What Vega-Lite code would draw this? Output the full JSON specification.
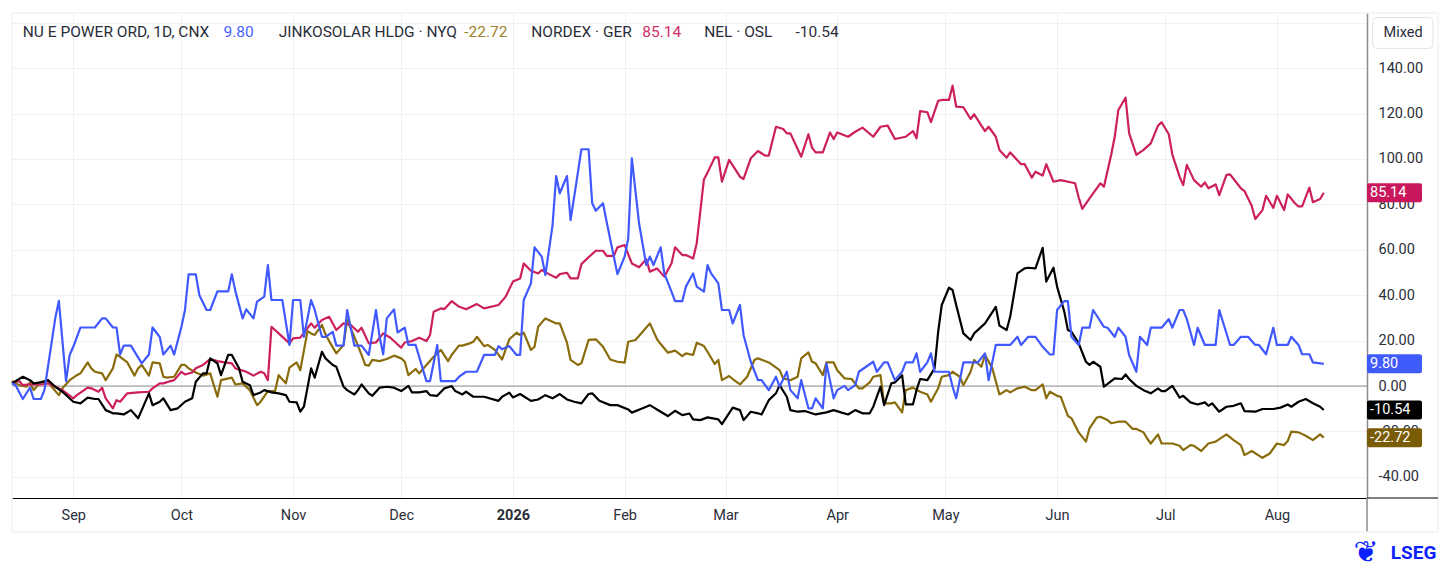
{
  "$schema": "https://vega.github.io/schema/vega-lite/v6.json",
  "width": 1355,
  "height": 485,
  "autosize": {"type": "none"},
  "padding": {"left": 12, "top": 13, "right": 84, "bottom": 73},
  "background": "white",
  "config": {"font": "Roboto", "view": {"stroke": null}},
  "datasets": {
    "nu": [{"d":"2025-08-15","v":1.2},{"d":"2025-08-16","v":0.4},{"d":"2025-08-18","v":-5.7},{"d":"2025-08-20","v":-0.7},{"d":"2025-08-21","v":-5.7},{"d":"2025-08-23","v":-5.7},{"d":"2025-08-24","v":-1.8},{"d":"2025-08-27","v":29.8},{"d":"2025-08-28","v":37.5},{"d":"2025-08-30","v":2.2},{"d":"2025-08-31","v":13.7},{"d":"2025-09-01","v":17.3},{"d":"2025-09-03","v":25.8},{"d":"2025-09-07","v":25.8},{"d":"2025-09-09","v":29.8},{"d":"2025-09-10","v":29.8},{"d":"2025-09-12","v":25.8},{"d":"2025-09-13","v":25.8},{"d":"2025-09-14","v":13.9},{"d":"2025-09-15","v":17.8},{"d":"2025-09-17","v":17.8},{"d":"2025-09-20","v":10},{"d":"2025-09-22","v":13.9},{"d":"2025-09-23","v":25.8},{"d":"2025-09-25","v":21.6},{"d":"2025-09-26","v":13.9},{"d":"2025-09-28","v":17.8},{"d":"2025-09-29","v":13.9},{"d":"2025-10-01","v":26},{"d":"2025-10-02","v":33.5},{"d":"2025-10-03","v":49.2},{"d":"2025-10-05","v":49.2},{"d":"2025-10-06","v":40},{"d":"2025-10-08","v":33.5},{"d":"2025-10-09","v":33.5},{"d":"2025-10-11","v":41.7},{"d":"2025-10-14","v":41.7},{"d":"2025-10-15","v":49.2},{"d":"2025-10-16","v":41.7},{"d":"2025-10-18","v":29.8},{"d":"2025-10-19","v":33.8},{"d":"2025-10-21","v":29.8},{"d":"2025-10-22","v":37.2},{"d":"2025-10-24","v":39.4},{"d":"2025-10-25","v":53.3},{"d":"2025-10-26","v":37.9},{"d":"2025-10-29","v":37.9},{"d":"2025-10-31","v":18.1},{"d":"2025-11-01","v":37.9},{"d":"2025-11-03","v":37.9},{"d":"2025-11-04","v":21.7},{"d":"2025-11-06","v":37.9},{"d":"2025-11-07","v":33.5},{"d":"2025-11-09","v":21.7},{"d":"2025-11-10","v":21.7},{"d":"2025-11-12","v":23.9},{"d":"2025-11-13","v":17.8},{"d":"2025-11-15","v":17.8},{"d":"2025-11-16","v":33.5},{"d":"2025-11-18","v":17.8},{"d":"2025-11-20","v":17.8},{"d":"2025-11-22","v":13.7},{"d":"2025-11-24","v":33.5},{"d":"2025-11-25","v":21.7},{"d":"2025-11-26","v":14},{"d":"2025-11-27","v":29.8},{"d":"2025-11-29","v":33.8},{"d":"2025-11-30","v":23.6},{"d":"2025-12-02","v":25.7},{"d":"2025-12-03","v":18.1},{"d":"2025-12-05","v":18.1},{"d":"2025-12-08","v":2.2},{"d":"2025-12-09","v":2.2},{"d":"2025-12-11","v":18.1},{"d":"2025-12-12","v":2.2},{"d":"2025-12-16","v":2.2},{"d":"2025-12-17","v":4},{"d":"2025-12-19","v":6.3},{"d":"2025-12-22","v":6.3},{"d":"2025-12-24","v":13.7},{"d":"2025-12-27","v":13.7},{"d":"2025-12-28","v":17.6},{"d":"2025-12-29","v":16.2},{"d":"2025-12-31","v":17.6},{"d":"2026-01-02","v":13.7},{"d":"2026-01-03","v":13.7},{"d":"2026-01-04","v":37.9},{"d":"2026-01-06","v":45.2},{"d":"2026-01-07","v":61.1},{"d":"2026-01-09","v":57},{"d":"2026-01-10","v":48.9},{"d":"2026-01-12","v":70.9},{"d":"2026-01-13","v":92.5},{"d":"2026-01-14","v":84.9},{"d":"2026-01-16","v":92.5},{"d":"2026-01-17","v":73.1},{"d":"2026-01-19","v":93.7},{"d":"2026-01-20","v":104.3},{"d":"2026-01-22","v":104.3},{"d":"2026-01-23","v":80.5},{"d":"2026-01-24","v":77.2},{"d":"2026-01-26","v":80.5},{"d":"2026-01-27","v":72.4},{"d":"2026-01-30","v":49.3},{"d":"2026-02-01","v":57},{"d":"2026-02-02","v":65},{"d":"2026-02-03","v":100.3},{"d":"2026-02-05","v":71.7},{"d":"2026-02-07","v":53.3},{"d":"2026-02-08","v":57},{"d":"2026-02-09","v":53.3},{"d":"2026-02-11","v":61.1},{"d":"2026-02-12","v":49.6},{"d":"2026-02-14","v":41.6},{"d":"2026-02-15","v":37.4},{"d":"2026-02-17","v":37.4},{"d":"2026-02-18","v":43.8},{"d":"2026-02-20","v":49.6},{"d":"2026-02-21","v":43.8},{"d":"2026-02-23","v":41.6},{"d":"2026-02-24","v":53.3},{"d":"2026-02-25","v":49.6},{"d":"2026-02-27","v":45.2},{"d":"2026-02-28","v":33.5},{"d":"2026-03-02","v":33.5},{"d":"2026-03-03","v":27.6},{"d":"2026-03-05","v":35.7},{"d":"2026-03-06","v":22.5},{"d":"2026-03-08","v":10.7},{"d":"2026-03-10","v":2.6},{"d":"2026-03-11","v":2.6},{"d":"2026-03-13","v":-1.8},{"d":"2026-03-15","v":4.1},{"d":"2026-03-16","v":-0.3},{"d":"2026-03-18","v":6.3},{"d":"2026-03-19","v":-1.8},{"d":"2026-03-21","v":-5.4},{"d":"2026-03-22","v":2.6},{"d":"2026-03-24","v":-9.8},{"d":"2026-03-25","v":-9.8},{"d":"2026-03-26","v":-5.4},{"d":"2026-03-28","v":-9.8},{"d":"2026-03-29","v":10},{"d":"2026-03-31","v":-5.4},{"d":"2026-04-01","v":-1.8},{"d":"2026-04-03","v":0.1},{"d":"2026-04-04","v":-1.8},{"d":"2026-04-06","v":0.4},{"d":"2026-04-07","v":6.3},{"d":"2026-04-09","v":8.5},{"d":"2026-04-11","v":10.7},{"d":"2026-04-12","v":6.3},{"d":"2026-04-14","v":10.4},{"d":"2026-04-15","v":10.4},{"d":"2026-04-17","v":2.6},{"d":"2026-04-19","v":6.3},{"d":"2026-04-20","v":10.4},{"d":"2026-04-22","v":10.4},{"d":"2026-04-23","v":14.4},{"d":"2026-04-24","v":6.3},{"d":"2026-04-26","v":10.4},{"d":"2026-04-27","v":14.4},{"d":"2026-04-28","v":6.3},{"d":"2026-05-02","v":6.3},{"d":"2026-05-03","v":-0.3},{"d":"2026-05-04","v":-5.4},{"d":"2026-05-06","v":10.4},{"d":"2026-05-10","v":10.4},{"d":"2026-05-12","v":14.4},{"d":"2026-05-13","v":2.6},{"d":"2026-05-15","v":18.1},{"d":"2026-05-16","v":18.1},{"d":"2026-05-19","v":18.1},{"d":"2026-05-21","v":21.7},{"d":"2026-05-22","v":18.1},{"d":"2026-05-24","v":21.7},{"d":"2026-05-26","v":21.7},{"d":"2026-05-28","v":17.3},{"d":"2026-05-30","v":13.9},{"d":"2026-05-31","v":13.9},{"d":"2026-06-01","v":33.5},{"d":"2026-06-03","v":37.4},{"d":"2026-06-04","v":37.4},{"d":"2026-06-05","v":21.7},{"d":"2026-06-07","v":18.1},{"d":"2026-06-08","v":25.7},{"d":"2026-06-10","v":25.7},{"d":"2026-06-11","v":33.5},{"d":"2026-06-14","v":26.1},{"d":"2026-06-15","v":25.7},{"d":"2026-06-17","v":21.7},{"d":"2026-06-18","v":25.7},{"d":"2026-06-20","v":21.7},{"d":"2026-06-21","v":13.6},{"d":"2026-06-23","v":6.3},{"d":"2026-06-24","v":21.7},{"d":"2026-06-26","v":18.1},{"d":"2026-06-27","v":25.7},{"d":"2026-06-30","v":25.7},{"d":"2026-07-02","v":29.5},{"d":"2026-07-03","v":25.7},{"d":"2026-07-05","v":33.5},{"d":"2026-07-06","v":33.5},{"d":"2026-07-07","v":29.5},{"d":"2026-07-09","v":18.1},{"d":"2026-07-10","v":25.7},{"d":"2026-07-12","v":18.1},{"d":"2026-07-15","v":18.1},{"d":"2026-07-16","v":33.5},{"d":"2026-07-19","v":18.1},{"d":"2026-07-20","v":18.1},{"d":"2026-07-22","v":21.7},{"d":"2026-07-24","v":21.7},{"d":"2026-07-26","v":18.1},{"d":"2026-07-27","v":18.1},{"d":"2026-07-29","v":14},{"d":"2026-07-31","v":25.7},{"d":"2026-08-01","v":18.1},{"d":"2026-08-04","v":18.1},{"d":"2026-08-05","v":21.7},{"d":"2026-08-07","v":18.1},{"d":"2026-08-08","v":14},{"d":"2026-08-10","v":14},{"d":"2026-08-11","v":10.4},{"d":"2026-08-14","v":9.8}],
    "nx": [{"d":"2025-08-15","v":1.5},{"d":"2025-08-17","v":2.2},{"d":"2025-08-18","v":0.4},{"d":"2025-08-20","v":0.7},{"d":"2025-08-23","v":0.7},{"d":"2025-08-25","v":1.2},{"d":"2025-08-27","v":-0.3},{"d":"2025-08-29","v":-1.8},{"d":"2025-09-01","v":-5.4},{"d":"2025-09-02","v":-4},{"d":"2025-09-05","v":-0.7},{"d":"2025-09-06","v":-1},{"d":"2025-09-08","v":-2.5},{"d":"2025-09-09","v":-0.7},{"d":"2025-09-10","v":-5.4},{"d":"2025-09-12","v":-9.8},{"d":"2025-09-13","v":-6.2},{"d":"2025-09-14","v":-6.9},{"d":"2025-09-16","v":-3.2},{"d":"2025-09-19","v":-2.8},{"d":"2025-09-22","v":-2.5},{"d":"2025-09-23","v":-1},{"d":"2025-09-25","v":1.2},{"d":"2025-09-26","v":1.2},{"d":"2025-09-28","v":2.2},{"d":"2025-09-29","v":2.6},{"d":"2025-10-01","v":6.3},{"d":"2025-10-02","v":5.1},{"d":"2025-10-04","v":6},{"d":"2025-10-05","v":7.8},{"d":"2025-10-07","v":9.3},{"d":"2025-10-09","v":11.9},{"d":"2025-10-11","v":11},{"d":"2025-10-13","v":10.4},{"d":"2025-10-15","v":10},{"d":"2025-10-16","v":7.8},{"d":"2025-10-19","v":6.3},{"d":"2025-10-21","v":4.6},{"d":"2025-10-23","v":6.3},{"d":"2025-10-24","v":5.6},{"d":"2025-10-25","v":2.6},{"d":"2025-10-26","v":26.1},{"d":"2025-10-28","v":23.2},{"d":"2025-10-31","v":18.8},{"d":"2025-11-01","v":21},{"d":"2025-11-03","v":21.3},{"d":"2025-11-06","v":27.6},{"d":"2025-11-07","v":25.7},{"d":"2025-11-09","v":29.1},{"d":"2025-11-11","v":30.5},{"d":"2025-11-13","v":24.7},{"d":"2025-11-15","v":27.6},{"d":"2025-11-17","v":26.9},{"d":"2025-11-19","v":23.9},{"d":"2025-11-20","v":25.7},{"d":"2025-11-22","v":18.8},{"d":"2025-11-24","v":19.2},{"d":"2025-11-26","v":23.2},{"d":"2025-11-28","v":21.3},{"d":"2025-12-01","v":16.9},{"d":"2025-12-02","v":19.2},{"d":"2025-12-04","v":19.8},{"d":"2025-12-06","v":21.3},{"d":"2025-12-08","v":19.8},{"d":"2025-12-09","v":22.5},{"d":"2025-12-10","v":32.7},{"d":"2025-12-12","v":34.2},{"d":"2025-12-13","v":33.9},{"d":"2025-12-15","v":37.4},{"d":"2025-12-17","v":35},{"d":"2025-12-19","v":33.8},{"d":"2025-12-22","v":36.1},{"d":"2025-12-24","v":34.2},{"d":"2025-12-28","v":35.7},{"d":"2025-12-30","v":39.4},{"d":"2026-01-01","v":46},{"d":"2026-01-03","v":47.4},{"d":"2026-01-04","v":54},{"d":"2026-01-06","v":50.8},{"d":"2026-01-08","v":49.6},{"d":"2026-01-09","v":51.1},{"d":"2026-01-11","v":49.3},{"d":"2026-01-13","v":47.7},{"d":"2026-01-14","v":49.3},{"d":"2026-01-16","v":49.9},{"d":"2026-01-17","v":47.4},{"d":"2026-01-19","v":47.4},{"d":"2026-01-20","v":53.7},{"d":"2026-01-22","v":56.7},{"d":"2026-01-24","v":59.6},{"d":"2026-01-26","v":59.6},{"d":"2026-01-27","v":57.3},{"d":"2026-01-29","v":57.3},{"d":"2026-01-30","v":61.1},{"d":"2026-02-01","v":62.1},{"d":"2026-02-03","v":54},{"d":"2026-02-05","v":52.3},{"d":"2026-02-07","v":55.8},{"d":"2026-02-08","v":50.4},{"d":"2026-02-10","v":51.8},{"d":"2026-02-12","v":48.2},{"d":"2026-02-14","v":54},{"d":"2026-02-15","v":61.1},{"d":"2026-02-17","v":57.7},{"d":"2026-02-18","v":57.7},{"d":"2026-02-20","v":56.2},{"d":"2026-02-21","v":62.8},{"d":"2026-02-23","v":91},{"d":"2026-02-24","v":94},{"d":"2026-02-26","v":100.7},{"d":"2026-02-27","v":100.7},{"d":"2026-02-28","v":90},{"d":"2026-03-02","v":99.6},{"d":"2026-03-05","v":92.2},{"d":"2026-03-06","v":91.2},{"d":"2026-03-08","v":100.3},{"d":"2026-03-10","v":103.5},{"d":"2026-03-12","v":101.5},{"d":"2026-03-13","v":101.5},{"d":"2026-03-15","v":114.2},{"d":"2026-03-17","v":113.2},{"d":"2026-03-18","v":111.3},{"d":"2026-03-19","v":111.3},{"d":"2026-03-22","v":101},{"d":"2026-03-24","v":110.9},{"d":"2026-03-25","v":105},{"d":"2026-03-26","v":102.9},{"d":"2026-03-28","v":102.9},{"d":"2026-03-30","v":111.7},{"d":"2026-03-31","v":108.8},{"d":"2026-04-01","v":111.7},{"d":"2026-04-04","v":109.8},{"d":"2026-04-06","v":112},{"d":"2026-04-08","v":113.8},{"d":"2026-04-11","v":109.8},{"d":"2026-04-13","v":114.2},{"d":"2026-04-15","v":114.7},{"d":"2026-04-17","v":108.8},{"d":"2026-04-20","v":109.8},{"d":"2026-04-22","v":112.3},{"d":"2026-04-23","v":109.1},{"d":"2026-04-24","v":121.1},{"d":"2026-04-26","v":120.6},{"d":"2026-04-27","v":116.2},{"d":"2026-04-29","v":125.6},{"d":"2026-04-30","v":126},{"d":"2026-05-02","v":126},{"d":"2026-05-03","v":132.3},{"d":"2026-05-04","v":123.1},{"d":"2026-05-06","v":122.8},{"d":"2026-05-08","v":117.6},{"d":"2026-05-09","v":119.7},{"d":"2026-05-11","v":114.7},{"d":"2026-05-12","v":112.3},{"d":"2026-05-13","v":114.2},{"d":"2026-05-15","v":109.8},{"d":"2026-05-16","v":104},{"d":"2026-05-18","v":100.6},{"d":"2026-05-19","v":102.9},{"d":"2026-05-22","v":97.7},{"d":"2026-05-23","v":97.7},{"d":"2026-05-25","v":91.8},{"d":"2026-05-26","v":94.4},{"d":"2026-05-28","v":92.7},{"d":"2026-05-29","v":97.7},{"d":"2026-05-31","v":90},{"d":"2026-06-02","v":90.7},{"d":"2026-06-06","v":89.3},{"d":"2026-06-07","v":83},{"d":"2026-06-08","v":78},{"d":"2026-06-10","v":82.7},{"d":"2026-06-13","v":89.3},{"d":"2026-06-14","v":87.8},{"d":"2026-06-16","v":101.8},{"d":"2026-06-17","v":109.8},{"d":"2026-06-18","v":121.6},{"d":"2026-06-20","v":127},{"d":"2026-06-21","v":111.3},{"d":"2026-06-23","v":101.8},{"d":"2026-06-25","v":104},{"d":"2026-06-27","v":106.9},{"d":"2026-06-29","v":114.7},{"d":"2026-06-30","v":116.2},{"d":"2026-07-02","v":110.9},{"d":"2026-07-03","v":101.8},{"d":"2026-07-05","v":92.2},{"d":"2026-07-06","v":88.5},{"d":"2026-07-07","v":97.4},{"d":"2026-07-09","v":90.7},{"d":"2026-07-11","v":87.8},{"d":"2026-07-12","v":89.7},{"d":"2026-07-13","v":87.1},{"d":"2026-07-15","v":88.8},{"d":"2026-07-16","v":84.1},{"d":"2026-07-18","v":93},{"d":"2026-07-19","v":93.2},{"d":"2026-07-20","v":91.2},{"d":"2026-07-22","v":87.1},{"d":"2026-07-23","v":85.9},{"d":"2026-07-25","v":79.4},{"d":"2026-07-26","v":73.6},{"d":"2026-07-28","v":77.5},{"d":"2026-07-29","v":83.8},{"d":"2026-07-31","v":78.5},{"d":"2026-08-01","v":83.8},{"d":"2026-08-03","v":77.5},{"d":"2026-08-04","v":84.4},{"d":"2026-08-06","v":80.5},{"d":"2026-08-07","v":79.1},{"d":"2026-08-08","v":79.1},{"d":"2026-08-10","v":87.4},{"d":"2026-08-11","v":81},{"d":"2026-08-13","v":82.4},{"d":"2026-08-14","v":85.14}],
    "nel": [{"d":"2025-08-15","v":1.2},{"d":"2025-08-18","v":4.1},{"d":"2025-08-20","v":2.6},{"d":"2025-08-21","v":1.2},{"d":"2025-08-24","v":1.9},{"d":"2025-08-25","v":2.6},{"d":"2025-08-27","v":-0.3},{"d":"2025-08-29","v":-2.5},{"d":"2025-09-01","v":-6.9},{"d":"2025-09-03","v":-7.6},{"d":"2025-09-05","v":-5.1},{"d":"2025-09-07","v":-5.7},{"d":"2025-09-08","v":-5.7},{"d":"2025-09-10","v":-10.6},{"d":"2025-09-12","v":-12},{"d":"2025-09-13","v":-12},{"d":"2025-09-15","v":-12.5},{"d":"2025-09-17","v":-10.6},{"d":"2025-09-19","v":-14.2},{"d":"2025-09-20","v":-10.6},{"d":"2025-09-22","v":-3.2},{"d":"2025-09-23","v":-8.4},{"d":"2025-09-25","v":-6.9},{"d":"2025-09-26","v":-5.4},{"d":"2025-09-28","v":-10.6},{"d":"2025-09-30","v":-9.8},{"d":"2025-10-02","v":-6.9},{"d":"2025-10-04","v":-5.4},{"d":"2025-10-05","v":1.9},{"d":"2025-10-07","v":5.6},{"d":"2025-10-08","v":5.6},{"d":"2025-10-09","v":12.2},{"d":"2025-10-11","v":10},{"d":"2025-10-12","v":4.8},{"d":"2025-10-14","v":13.7},{"d":"2025-10-15","v":13.7},{"d":"2025-10-17","v":7.8},{"d":"2025-10-18","v":1.9},{"d":"2025-10-20","v":0.4},{"d":"2025-10-21","v":-4},{"d":"2025-10-23","v":-2.8},{"d":"2025-10-24","v":-1.8},{"d":"2025-10-26","v":-2.8},{"d":"2025-10-28","v":-3.2},{"d":"2025-10-30","v":-4},{"d":"2025-10-31","v":-6.9},{"d":"2025-11-02","v":-7.2},{"d":"2025-11-03","v":-11.3},{"d":"2025-11-04","v":-9.1},{"d":"2025-11-06","v":7.8},{"d":"2025-11-07","v":3.7},{"d":"2025-11-09","v":15.1},{"d":"2025-11-10","v":12.2},{"d":"2025-11-12","v":9.3},{"d":"2025-11-13","v":8.5},{"d":"2025-11-15","v":-0.3},{"d":"2025-11-16","v":-1.8},{"d":"2025-11-18","v":-3.7},{"d":"2025-11-19","v":-1.8},{"d":"2025-11-20","v":0.7},{"d":"2025-11-22","v":-3.2},{"d":"2025-11-23","v":-4.3},{"d":"2025-11-25","v":-0.7},{"d":"2025-11-27","v":-0.3},{"d":"2025-11-29","v":-0.7},{"d":"2025-12-01","v":-2.2},{"d":"2025-12-03","v":0.1},{"d":"2025-12-04","v":-2.8},{"d":"2025-12-06","v":-2.8},{"d":"2025-12-08","v":-2.2},{"d":"2025-12-09","v":-4},{"d":"2025-12-11","v":-4.3},{"d":"2025-12-13","v":-1},{"d":"2025-12-15","v":0},{"d":"2025-12-16","v":-2.2},{"d":"2025-12-18","v":-3.7},{"d":"2025-12-19","v":-2.5},{"d":"2025-12-21","v":-4.7},{"d":"2025-12-24","v":-4.7},{"d":"2025-12-28","v":-6.5},{"d":"2025-12-29","v":-4.7},{"d":"2025-12-31","v":-2.9},{"d":"2026-01-01","v":-5},{"d":"2026-01-03","v":-3.5},{"d":"2026-01-06","v":-6.5},{"d":"2026-01-08","v":-5.9},{"d":"2026-01-10","v":-4},{"d":"2026-01-12","v":-5.4},{"d":"2026-01-14","v":-3.5},{"d":"2026-01-16","v":-5.9},{"d":"2026-01-18","v":-6.9},{"d":"2026-01-20","v":-7.6},{"d":"2026-01-22","v":-3.5},{"d":"2026-01-23","v":-3.2},{"d":"2026-01-25","v":-6.5},{"d":"2026-01-28","v":-8.4},{"d":"2026-01-30","v":-8.4},{"d":"2026-02-02","v":-10.3},{"d":"2026-02-03","v":-11.7},{"d":"2026-02-06","v":-9.8},{"d":"2026-02-08","v":-8.4},{"d":"2026-02-11","v":-11.3},{"d":"2026-02-13","v":-13.2},{"d":"2026-02-15","v":-10.9},{"d":"2026-02-17","v":-12.8},{"d":"2026-02-19","v":-12.1},{"d":"2026-02-20","v":-14.7},{"d":"2026-02-22","v":-15},{"d":"2026-02-24","v":-13.8},{"d":"2026-02-27","v":-14.7},{"d":"2026-02-28","v":-16.8},{"d":"2026-03-03","v":-9.5},{"d":"2026-03-05","v":-10.6},{"d":"2026-03-06","v":-15},{"d":"2026-03-08","v":-11.3},{"d":"2026-03-10","v":-12},{"d":"2026-03-11","v":-12.5},{"d":"2026-03-13","v":-6.2},{"d":"2026-03-15","v":-3.2},{"d":"2026-03-16","v":0.4},{"d":"2026-03-18","v":-4.7},{"d":"2026-03-19","v":-10.6},{"d":"2026-03-21","v":-11.3},{"d":"2026-03-23","v":-11},{"d":"2026-03-26","v":-12.5},{"d":"2026-03-29","v":-11.6},{"d":"2026-03-31","v":-10.6},{"d":"2026-04-02","v":-11.6},{"d":"2026-04-04","v":-12.5},{"d":"2026-04-06","v":-10.6},{"d":"2026-04-08","v":-12},{"d":"2026-04-10","v":-12},{"d":"2026-04-11","v":-9.1},{"d":"2026-04-13","v":-0.3},{"d":"2026-04-14","v":-8.4},{"d":"2026-04-16","v":1.2},{"d":"2026-04-17","v":1.6},{"d":"2026-04-19","v":4.8},{"d":"2026-04-20","v":-8.1},{"d":"2026-04-22","v":-8.1},{"d":"2026-04-23","v":-1.8},{"d":"2026-04-24","v":3.1},{"d":"2026-04-26","v":2.6},{"d":"2026-04-28","v":7.8},{"d":"2026-04-29","v":23.9},{"d":"2026-04-30","v":35.7},{"d":"2026-05-02","v":43.3},{"d":"2026-05-03","v":42.3},{"d":"2026-05-04","v":35.7},{"d":"2026-05-06","v":23.2},{"d":"2026-05-08","v":20.3},{"d":"2026-05-09","v":23.2},{"d":"2026-05-12","v":27.6},{"d":"2026-05-15","v":34.9},{"d":"2026-05-16","v":26.6},{"d":"2026-05-18","v":24.7},{"d":"2026-05-19","v":30.6},{"d":"2026-05-21","v":49.6},{"d":"2026-05-23","v":51.8},{"d":"2026-05-24","v":52.1},{"d":"2026-05-26","v":51.8},{"d":"2026-05-28","v":60.9},{"d":"2026-05-29","v":46},{"d":"2026-05-31","v":52.1},{"d":"2026-06-01","v":43.8},{"d":"2026-06-03","v":32.8},{"d":"2026-06-04","v":24.7},{"d":"2026-06-05","v":23.9},{"d":"2026-06-07","v":18.8},{"d":"2026-06-09","v":10.7},{"d":"2026-06-10","v":9.3},{"d":"2026-06-11","v":10.7},{"d":"2026-06-13","v":8.5},{"d":"2026-06-14","v":-0.3},{"d":"2026-06-16","v":2.2},{"d":"2026-06-17","v":3.4},{"d":"2026-06-19","v":3.1},{"d":"2026-06-20","v":5.1},{"d":"2026-06-21","v":3.1},{"d":"2026-06-23","v":0.1},{"d":"2026-06-25","v":-1.8},{"d":"2026-06-27","v":-3.2},{"d":"2026-06-29","v":-1},{"d":"2026-06-30","v":-2.2},{"d":"2026-07-01","v":-2.2},{"d":"2026-07-03","v":0.1},{"d":"2026-07-05","v":-5.1},{"d":"2026-07-06","v":-4.3},{"d":"2026-07-08","v":-7.2},{"d":"2026-07-10","v":-8.1},{"d":"2026-07-12","v":-7.2},{"d":"2026-07-13","v":-8.7},{"d":"2026-07-14","v":-7.6},{"d":"2026-07-16","v":-11.3},{"d":"2026-07-18","v":-9.1},{"d":"2026-07-20","v":-8.7},{"d":"2026-07-22","v":-7.6},{"d":"2026-07-23","v":-11},{"d":"2026-07-26","v":-11.3},{"d":"2026-07-28","v":-10.1},{"d":"2026-07-31","v":-10.1},{"d":"2026-08-02","v":-9.5},{"d":"2026-08-04","v":-8.1},{"d":"2026-08-05","v":-9.1},{"d":"2026-08-07","v":-6.9},{"d":"2026-08-09","v":-5.7},{"d":"2026-08-11","v":-7.6},{"d":"2026-08-13","v":-9.1},{"d":"2026-08-14","v":-10.54}],
    "jk": [{"d":"2025-08-15","v":2.2},{"d":"2025-08-17","v":0.4},{"d":"2025-08-19","v":-0.3},{"d":"2025-08-20","v":1.6},{"d":"2025-08-21","v":-1.8},{"d":"2025-08-23","v":1.9},{"d":"2025-08-25","v":2.6},{"d":"2025-08-26","v":-0.3},{"d":"2025-08-28","v":-4},{"d":"2025-08-29","v":-1},{"d":"2025-08-31","v":2.6},{"d":"2025-09-02","v":4.8},{"d":"2025-09-03","v":5.6},{"d":"2025-09-05","v":10.4},{"d":"2025-09-06","v":7.8},{"d":"2025-09-07","v":6.3},{"d":"2025-09-09","v":5.6},{"d":"2025-09-10","v":2.6},{"d":"2025-09-12","v":7.8},{"d":"2025-09-13","v":13.9},{"d":"2025-09-14","v":12.9},{"d":"2025-09-16","v":10.4},{"d":"2025-09-18","v":4.6},{"d":"2025-09-19","v":7.8},{"d":"2025-09-20","v":9.3},{"d":"2025-09-22","v":4.6},{"d":"2025-09-23","v":10.4},{"d":"2025-09-25","v":10},{"d":"2025-09-26","v":4.1},{"d":"2025-09-27","v":3.7},{"d":"2025-09-29","v":4.1},{"d":"2025-10-01","v":9.3},{"d":"2025-10-02","v":9.3},{"d":"2025-10-03","v":7.8},{"d":"2025-10-05","v":6},{"d":"2025-10-07","v":4.6},{"d":"2025-10-09","v":5.6},{"d":"2025-10-11","v":-4.7},{"d":"2025-10-12","v":2.6},{"d":"2025-10-15","v":3.7},{"d":"2025-10-16","v":0.7},{"d":"2025-10-18","v":1.2},{"d":"2025-10-20","v":-1.8},{"d":"2025-10-22","v":-8.4},{"d":"2025-10-23","v":-6.9},{"d":"2025-10-25","v":-2.2},{"d":"2025-10-27","v":-2.2},{"d":"2025-10-28","v":4.8},{"d":"2025-10-30","v":1.2},{"d":"2025-10-31","v":8.1},{"d":"2025-11-02","v":10.4},{"d":"2025-11-03","v":7},{"d":"2025-11-05","v":24.2},{"d":"2025-11-06","v":23.2},{"d":"2025-11-07","v":22.5},{"d":"2025-11-09","v":26.9},{"d":"2025-11-10","v":22.8},{"d":"2025-11-11","v":19.8},{"d":"2025-11-13","v":14.4},{"d":"2025-11-15","v":18.1},{"d":"2025-11-16","v":29.1},{"d":"2025-11-18","v":21.7},{"d":"2025-11-20","v":13.7},{"d":"2025-11-21","v":9.3},{"d":"2025-11-22","v":9},{"d":"2025-11-23","v":11.5},{"d":"2025-11-25","v":11},{"d":"2025-11-27","v":11.9},{"d":"2025-11-29","v":13.4},{"d":"2025-12-01","v":12.2},{"d":"2025-12-02","v":10.7},{"d":"2025-12-03","v":4.8},{"d":"2025-12-05","v":7.5},{"d":"2025-12-06","v":5.6},{"d":"2025-12-08","v":9.3},{"d":"2025-12-10","v":12.9},{"d":"2025-12-12","v":15.9},{"d":"2025-12-14","v":11},{"d":"2025-12-15","v":13.7},{"d":"2025-12-17","v":17.8},{"d":"2025-12-18","v":17.8},{"d":"2025-12-20","v":18.8},{"d":"2025-12-21","v":19.5},{"d":"2025-12-22","v":21.7},{"d":"2025-12-24","v":17.6},{"d":"2025-12-25","v":18.1},{"d":"2025-12-27","v":15.9},{"d":"2025-12-29","v":11.7},{"d":"2025-12-31","v":20.6},{"d":"2026-01-02","v":23.5},{"d":"2026-01-03","v":22.5},{"d":"2026-01-04","v":23.5},{"d":"2026-01-06","v":15.9},{"d":"2026-01-07","v":17.3},{"d":"2026-01-08","v":26.1},{"d":"2026-01-10","v":29.8},{"d":"2026-01-12","v":28.3},{"d":"2026-01-13","v":27.6},{"d":"2026-01-14","v":27.6},{"d":"2026-01-16","v":19.1},{"d":"2026-01-17","v":11.5},{"d":"2026-01-19","v":9.3},{"d":"2026-01-20","v":10},{"d":"2026-01-22","v":20.3},{"d":"2026-01-24","v":20.6},{"d":"2026-01-26","v":17.3},{"d":"2026-01-28","v":11.7},{"d":"2026-01-30","v":10.7},{"d":"2026-02-01","v":10.3},{"d":"2026-02-02","v":19.5},{"d":"2026-02-04","v":20.3},{"d":"2026-02-06","v":23.9},{"d":"2026-02-08","v":27.6},{"d":"2026-02-10","v":20.6},{"d":"2026-02-11","v":18.5},{"d":"2026-02-13","v":14.7},{"d":"2026-02-15","v":15.6},{"d":"2026-02-17","v":13.2},{"d":"2026-02-18","v":14.4},{"d":"2026-02-20","v":13.7},{"d":"2026-02-21","v":19.1},{"d":"2026-02-23","v":17.6},{"d":"2026-02-24","v":15.1},{"d":"2026-02-26","v":9.7},{"d":"2026-02-27","v":11.5},{"d":"2026-02-28","v":2.6},{"d":"2026-03-02","v":4.4},{"d":"2026-03-03","v":3.1},{"d":"2026-03-05","v":0.7},{"d":"2026-03-07","v":4.1},{"d":"2026-03-09","v":11.5},{"d":"2026-03-10","v":12.2},{"d":"2026-03-13","v":10.4},{"d":"2026-03-16","v":7},{"d":"2026-03-17","v":3.4},{"d":"2026-03-19","v":2.6},{"d":"2026-03-21","v":4.1},{"d":"2026-03-22","v":12.2},{"d":"2026-03-24","v":14.8},{"d":"2026-03-25","v":10.7},{"d":"2026-03-26","v":10},{"d":"2026-03-28","v":4.8},{"d":"2026-03-29","v":10.4},{"d":"2026-03-31","v":10.4},{"d":"2026-04-01","v":7},{"d":"2026-04-03","v":3.4},{"d":"2026-04-05","v":3.1},{"d":"2026-04-07","v":-1},{"d":"2026-04-08","v":-1},{"d":"2026-04-10","v":1.6},{"d":"2026-04-11","v":4.1},{"d":"2026-04-13","v":4.8},{"d":"2026-04-14","v":-7.6},{"d":"2026-04-16","v":-7.6},{"d":"2026-04-17","v":-7.2},{"d":"2026-04-19","v":-11.6},{"d":"2026-04-20","v":-1.8},{"d":"2026-04-22","v":-0.7},{"d":"2026-04-24","v":-2.5},{"d":"2026-04-26","v":-3.7},{"d":"2026-04-27","v":-6.9},{"d":"2026-04-29","v":-1},{"d":"2026-04-30","v":4.1},{"d":"2026-05-02","v":4.8},{"d":"2026-05-03","v":6.3},{"d":"2026-05-05","v":4.1},{"d":"2026-05-06","v":0.4},{"d":"2026-05-08","v":6.3},{"d":"2026-05-09","v":11.5},{"d":"2026-05-11","v":8.5},{"d":"2026-05-12","v":13.7},{"d":"2026-05-14","v":8},{"d":"2026-05-16","v":-3.7},{"d":"2026-05-18","v":-1.8},{"d":"2026-05-19","v":-2.8},{"d":"2026-05-21","v":-1},{"d":"2026-05-23","v":-0.3},{"d":"2026-05-25","v":-1.8},{"d":"2026-05-26","v":-1.8},{"d":"2026-05-28","v":0.7},{"d":"2026-05-29","v":-5.4},{"d":"2026-05-30","v":-2.5},{"d":"2026-06-01","v":-4.3},{"d":"2026-06-02","v":-4.7},{"d":"2026-06-04","v":-13.1},{"d":"2026-06-05","v":-14.2},{"d":"2026-06-07","v":-20.4},{"d":"2026-06-09","v":-24.5},{"d":"2026-06-10","v":-18.6},{"d":"2026-06-12","v":-13.9},{"d":"2026-06-13","v":-13.5},{"d":"2026-06-15","v":-15},{"d":"2026-06-16","v":-16.4},{"d":"2026-06-18","v":-15.7},{"d":"2026-06-20","v":-15.7},{"d":"2026-06-22","v":-18.9},{"d":"2026-06-23","v":-18.9},{"d":"2026-06-25","v":-20.4},{"d":"2026-06-26","v":-23.1},{"d":"2026-06-27","v":-25.3},{"d":"2026-06-29","v":-21.3},{"d":"2026-06-30","v":-25.3},{"d":"2026-07-03","v":-25.3},{"d":"2026-07-05","v":-26.3},{"d":"2026-07-06","v":-28.2},{"d":"2026-07-08","v":-26},{"d":"2026-07-09","v":-26.3},{"d":"2026-07-11","v":-28.6},{"d":"2026-07-13","v":-25.3},{"d":"2026-07-15","v":-24.5},{"d":"2026-07-18","v":-21.3},{"d":"2026-07-20","v":-23.8},{"d":"2026-07-22","v":-26},{"d":"2026-07-23","v":-30.4},{"d":"2026-07-25","v":-28.6},{"d":"2026-07-28","v":-31.6},{"d":"2026-07-30","v":-29.7},{"d":"2026-08-01","v":-25.3},{"d":"2026-08-03","v":-26},{"d":"2026-08-04","v":-24.2},{"d":"2026-08-05","v":-20.1},{"d":"2026-08-07","v":-20.4},{"d":"2026-08-09","v":-21.9},{"d":"2026-08-11","v":-23.8},{"d":"2026-08-13","v":-21.3},{"d":"2026-08-14","v":-22.72}],
    "last": [
      {"s": "nu", "v": 9.8, "t": "9.80"},
      {"s": "jk", "v": -22.72, "t": "-22.72"},
      {"s": "nx", "v": 85.14, "t": "85.14"},
      {"s": "nel", "v": -10.54, "t": "-10.54"}
    ]
  },
  "data": {"values": [{}]},
  "layer": [
    {
      "mark": {"type": "rect", "filled": false, "stroke": "#ececec", "strokeWidth": 1},
      "encoding": {
        "x": {"datum": {"year": 2025, "month": 8, "date": 15, "utc": true}, "type": "temporal"},
        "x2": {"datum": {"year": 2026, "month": 9, "date": 14, "hours": 17, "utc": true}},
        "y": {"datum": 164.3, "type": "quantitative"},
        "y2": {"datum": -64.2}
      }
    },
    {
      "mark": {"type": "rule", "color": "#8f8f8f", "strokeWidth": 1},
      "encoding": {"y": {"datum": 0, "type": "quantitative"}}
    },
    {
      "data": {"name": "jk"},
      "mark": {"type": "line", "color": "#8a6c0c", "strokeWidth": 2.2, "strokeJoin": "round"},
      "encoding": {
        "x": {"field": "d", "type": "temporal"},
        "y": {"field": "v", "type": "quantitative"}
      }
    },
    {
      "data": {"name": "nx"},
      "mark": {"type": "line", "color": "#cc1f5e", "strokeWidth": 2.2, "strokeJoin": "round"},
      "encoding": {
        "x": {
          "field": "d", "type": "temporal",
          "scale": {"type": "utc", "domain": [{"year": 2025, "month": 8, "date": 15, "utc": true}, {"year": 2026, "month": 8, "date": 26, "utc": true}]},
          "axis": {
            "title": null,
            "values": [
              {"year": 2025, "month": 9, "date": 1, "utc": true},
              {"year": 2025, "month": 10, "date": 1, "utc": true},
              {"year": 2025, "month": 11, "date": 1, "utc": true},
              {"year": 2025, "month": 12, "date": 1, "utc": true},
              {"year": 2026, "month": 1, "date": 1, "utc": true},
              {"year": 2026, "month": 2, "date": 1, "utc": true},
              {"year": 2026, "month": 3, "date": 1, "utc": true},
              {"year": 2026, "month": 4, "date": 1, "utc": true},
              {"year": 2026, "month": 5, "date": 1, "utc": true},
              {"year": 2026, "month": 6, "date": 1, "utc": true},
              {"year": 2026, "month": 7, "date": 1, "utc": true},
              {"year": 2026, "month": 8, "date": 1, "utc": true}
            ],
            "labelExpr": "utcmonth(datum.value) === 0 ? utcFormat(datum.value, '%Y') : utcFormat(datum.value, '%b')",
            "labelFontWeight": {"condition": {"test": "utcmonth(datum.value) === 0", "value": "bold"}, "value": "normal"},
            "labelFont": "Roboto", "labelFontSize": 14.5, "labelColor": "#2a2e39",
            "labelPadding": 10, "labelFlush": false, "labelOverlap": false,
            "ticks": false, "domainColor": "#000000", "domainWidth": 1,
            "grid": true, "gridColor": "#efefef", "gridWidth": 1
          }
        },
        "y": {
          "field": "v", "type": "quantitative",
          "scale": {"domain": [-49.3, 164.3], "nice": false, "zero": false},
          "axis": {
            "title": null, "orient": "right",
            "values": [-40, -20, 0, 20, 40, 60, 80, 100, 120, 140, 160],
            "labelExpr": "datum.value > 150 ? '' : (datum.value < 0 ? '-' : '') + format(abs(datum.value), '.2f')",
            "labelFont": "Roboto", "labelFontSize": 14.5, "labelColor": "#2a2e39",
            "labelAlign": "left", "labelBaseline": "middle", "labelPadding": 11,
            "ticks": false, "domainColor": "#8c8c8c", "domainWidth": 1.5,
            "grid": true, "gridColor": "#f0f0f0", "gridWidth": 1
          }
        }
      }
    },
    {
      "data": {"name": "nel"},
      "mark": {"type": "line", "color": "#000000", "strokeWidth": 2.2, "strokeJoin": "round"},
      "encoding": {
        "x": {"field": "d", "type": "temporal"},
        "y": {"field": "v", "type": "quantitative"}
      }
    },
    {
      "data": {"name": "nu"},
      "mark": {"type": "line", "color": "#4059ff", "strokeWidth": 2.2, "strokeJoin": "round"},
      "encoding": {
        "x": {"field": "d", "type": "temporal"},
        "y": {"field": "v", "type": "quantitative"}
      }
    },
    {
      "mark": {"type": "rule", "color": "#000000", "strokeWidth": 1},
      "encoding": {
        "x": {"datum": {"year": 2026, "month": 8, "date": 26, "utc": true}, "type": "temporal"},
        "x2": {"datum": {"year": 2026, "month": 9, "date": 14, "hours": 17, "utc": true}},
        "y": {"datum": -49.3, "type": "quantitative"}
      }
    },
    {
      "mark": {"type": "rule", "color": "#8c8c8c", "strokeWidth": 1.5},
      "encoding": {
        "x": {"datum": {"year": 2026, "month": 8, "date": 26, "utc": true}, "type": "temporal"},
        "y": {"datum": -49.3, "type": "quantitative"},
        "y2": {"datum": -63.9}
      }
    },
    {
      "data": {"name": "last"},
      "mark": {"type": "rect", "width": 55, "height": 19, "xOffset": 27.5, "cornerRadius": 2},
      "encoding": {
        "x": {"datum": {"year": 2026, "month": 8, "date": 26, "utc": true}, "type": "temporal"},
        "y": {"field": "v", "type": "quantitative"},
        "color": {
          "field": "s", "type": "nominal", "legend": null,
          "scale": {"domain": ["nu", "jk", "nx", "nel"], "range": ["#3f5bfc", "#7a5c07", "#c8175d", "#000000"]}
        }
      }
    },
    {
      "data": {"name": "last"},
      "mark": {"type": "text", "align": "left", "baseline": "middle", "dx": 3, "color": "#ffffff", "fontSize": 14.5},
      "encoding": {
        "x": {"datum": {"year": 2026, "month": 8, "date": 26, "utc": true}, "type": "temporal"},
        "y": {"field": "v", "type": "quantitative"},
        "text": {"field": "t"}
      }
    },
    {
      "mark": {"type": "text", "align": "left", "baseline": "middle", "fontSize": 15.5, "color": "#2a2e39"},
      "encoding": {
        "x": {"datum": {"year": 2025, "month": 8, "date": 18, "utc": true}, "type": "temporal"},
        "y": {"datum": 155.9, "type": "quantitative"},
        "text": {"value": "NU E POWER ORD, 1D, CNX"}
      }
    },
    {
      "mark": {"type": "text", "align": "left", "baseline": "middle", "fontSize": 15.5, "color": "#4a62ff"},
      "encoding": {
        "x": {"datum": {"year": 2025, "month": 10, "date": 12, "hours": 17, "utc": true}, "type": "temporal"},
        "y": {"datum": 155.9, "type": "quantitative"},
        "text": {"value": "9.80"}
      }
    },
    {
      "mark": {"type": "text", "align": "left", "baseline": "middle", "fontSize": 15.5, "color": "#2a2e39"},
      "encoding": {
        "x": {"datum": {"year": 2025, "month": 10, "date": 28, "utc": true}, "type": "temporal"},
        "y": {"datum": 155.9, "type": "quantitative"},
        "text": {"value": "JINKOSOLAR HLDG · NYQ"}
      }
    },
    {
      "mark": {"type": "text", "align": "left", "baseline": "middle", "fontSize": 15.5, "color": "#9c8128"},
      "encoding": {
        "x": {"datum": {"year": 2025, "month": 12, "date": 18, "hours": 12, "utc": true}, "type": "temporal"},
        "y": {"datum": 155.9, "type": "quantitative"},
        "text": {"value": "-22.72"}
      }
    },
    {
      "mark": {"type": "text", "align": "left", "baseline": "middle", "fontSize": 15.5, "color": "#2a2e39"},
      "encoding": {
        "x": {"datum": {"year": 2026, "month": 1, "date": 6, "hours": 2, "utc": true}, "type": "temporal"},
        "y": {"datum": 155.9, "type": "quantitative"},
        "text": {"value": "NORDEX · GER"}
      }
    },
    {
      "mark": {"type": "text", "align": "left", "baseline": "middle", "fontSize": 15.5, "color": "#d12e67"},
      "encoding": {
        "x": {"datum": {"year": 2026, "month": 2, "date": 5, "hours": 22, "utc": true}, "type": "temporal"},
        "y": {"datum": 155.9, "type": "quantitative"},
        "text": {"value": "85.14"}
      }
    },
    {
      "mark": {"type": "text", "align": "left", "baseline": "middle", "fontSize": 15.5, "color": "#2a2e39"},
      "encoding": {
        "x": {"datum": {"year": 2026, "month": 2, "date": 23, "hours": 2, "utc": true}, "type": "temporal"},
        "y": {"datum": 155.9, "type": "quantitative"},
        "text": {"value": "NEL · OSL"}
      }
    },
    {
      "mark": {"type": "text", "align": "left", "baseline": "middle", "fontSize": 15.5, "color": "#2a2e39"},
      "encoding": {
        "x": {"datum": {"year": 2026, "month": 3, "date": 20, "hours": 10, "utc": true}, "type": "temporal"},
        "y": {"datum": 155.9, "type": "quantitative"},
        "text": {"value": "-10.54"}
      }
    },
    {
      "mark": {"type": "rect", "fill": "#ffffff", "stroke": "#e0e3eb", "strokeWidth": 1, "cornerRadius": 4},
      "encoding": {
        "x": {"datum": {"year": 2026, "month": 8, "date": 27, "hours": 14, "utc": true}, "type": "temporal"},
        "x2": {"datum": {"year": 2026, "month": 9, "date": 13, "hours": 7, "utc": true}},
        "y": {"datum": 162.3, "type": "quantitative"},
        "y2": {"datum": 148.7}
      }
    },
    {
      "mark": {"type": "text", "align": "center", "baseline": "middle", "fontSize": 14.5, "color": "#2a2e39"},
      "encoding": {
        "x": {"datum": {"year": 2026, "month": 9, "date": 5, "utc": true}, "type": "temporal"},
        "y": {"datum": 155.5, "type": "quantitative"},
        "text": {"value": "Mixed"}
      }
    },
    {
      "mark": {"type": "text", "align": "center", "baseline": "middle", "fontSize": 30, "font": "DejaVu Sans", "fontWeight": "bold", "color": "#0a1fff"},
      "encoding": {
        "x": {"datum": {"year": 2026, "month": 8, "date": 25, "hours": 17, "utc": true}, "type": "temporal"},
        "y": {"datum": -73.6, "type": "quantitative"},
        "text": {"value": "❦"}
      }
    },
    {
      "mark": {"type": "text", "align": "left", "baseline": "middle", "fontSize": 19, "fontWeight": "bold", "color": "#0a1fff"},
      "encoding": {
        "x": {"datum": {"year": 2026, "month": 9, "date": 1, "hours": 14, "utc": true}, "type": "temporal"},
        "y": {"datum": -73.6, "type": "quantitative"},
        "text": {"value": "LSEG"}
      }
    }
  ]
}
